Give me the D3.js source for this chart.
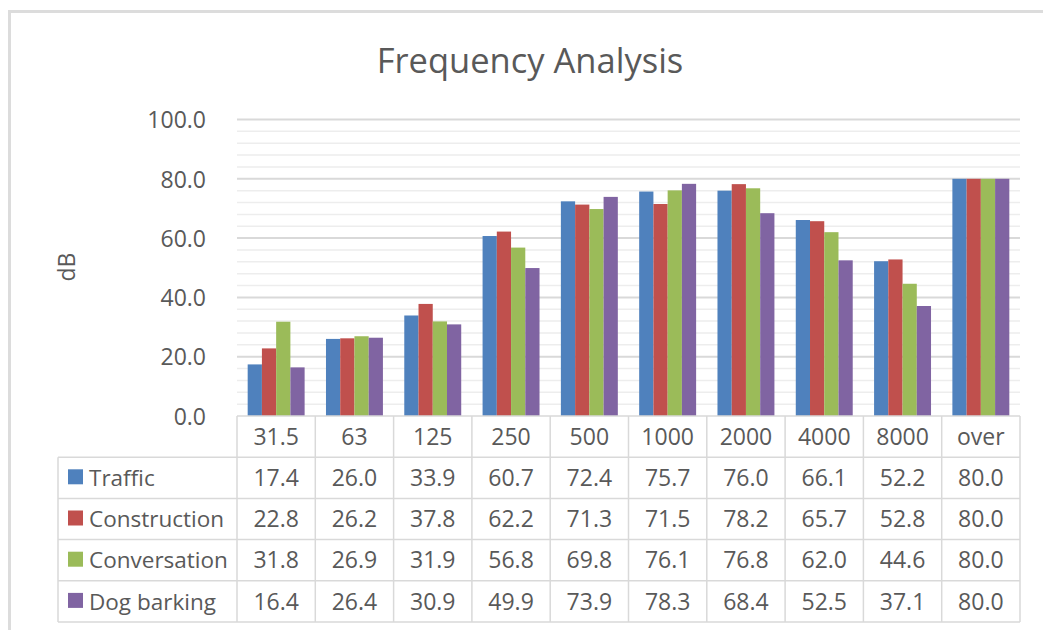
<!DOCTYPE html>
<html>
<head>
<meta charset="utf-8">
<script src="https://cdn.jsdelivr.net/npm/d3@7"></script>
<style>
  html, body { margin: 0; padding: 0; background: #fff; }
  svg { display: block; }
  text { font-family: "Open Sans", sans-serif; fill: #595959; }
</style>
</head>
<body>
<svg id="chart" width="1043" height="630"></svg>
<script>
// ---- data ----
const categories = ["31.5", "63", "125", "250", "500", "1000", "2000", "4000", "8000", "over"];
const seriesNames = ["Traffic", "Construction", "Conversation", "Dog barking"];
const traffic      = [17.4, 26.0, 33.9, 60.7, 72.4, 75.7, 76.0, 66.1, 52.2, 80.0];
const construction = [22.8, 26.2, 37.8, 62.2, 71.3, 71.5, 78.2, 65.7, 52.8, 80.0];
const conversation = [31.8, 26.9, 31.9, 56.8, 69.8, 76.1, 76.8, 62.0, 44.6, 80.0];
const dogBarking   = [16.4, 26.4, 30.9, 49.9, 73.9, 78.3, 68.4, 52.5, 37.1, 80.0];
const majorTicks = [0, 20, 40, 60, 80, 100];
const minorTicks = [4, 8, 12, 16, 24, 28, 32, 36, 44, 48, 52, 56, 64, 68, 72, 76, 84, 88, 92, 96];
const title = "Frequency Analysis";
const yTitle = "dB";

const seriesValues = [traffic, construction, conversation, dogBarking];
const colors = ["#4F81BD", "#C0504D", "#9BBB59", "#8064A2"];

// ---- layout ----
const svg = d3.select("#chart");
const plotLeft = 237, plotRight = 1020, plotTop = 119.5, plotBottom = 416;
const tableLeft = 58, tableBottom = 622;
const gridColor = "#D9D9D9", minorColor = "#EDEDED";

// chart area border
svg.append("rect")
  .attr("x", 9.5).attr("y", 11.5)
  .attr("width", 1100).attr("height", 700)
  .attr("fill", "none").attr("stroke", "#DCDCDC").attr("stroke-width", 3);

const x0 = d3.scaleBand().domain(categories).range([plotLeft, plotRight]).paddingInner(0).paddingOuter(0);
const x1 = d3.scaleBand().domain(seriesNames).range([0, x0.bandwidth()]).paddingInner(0).paddingOuter(0.75);
const y = d3.scaleLinear().domain([0, 100]).range([plotBottom, plotTop]);

// minor gridlines
svg.append("g").selectAll("line").data(minorTicks).join("line")
  .attr("x1", plotLeft).attr("x2", plotRight)
  .attr("y1", d => y(d)).attr("y2", d => y(d))
  .attr("stroke", minorColor).attr("stroke-width", 1.5);

// major gridlines
svg.append("g").selectAll("line").data(majorTicks.filter(d => d > 0)).join("line")
  .attr("x1", plotLeft).attr("x2", plotRight)
  .attr("y1", d => y(d)).attr("y2", d => y(d))
  .attr("stroke", gridColor).attr("stroke-width", 2);

// y axis labels
const yAxis = svg.append("g")
  .attr("transform", `translate(${plotLeft},0)`)
  .call(d3.axisLeft(y).tickValues(majorTicks).tickFormat(d3.format(".1f")).tickSize(0).tickPadding(31));
yAxis.select(".domain").remove();
yAxis.selectAll("text")
  .attr("font-family", "'Open Sans', sans-serif")
  .attr("font-size", 23)
  .attr("dy", "0.36em")
  .style("fill", "#595959");

// bars
const groups = svg.append("g").selectAll("g").data(categories).join("g")
  .attr("transform", d => `translate(${x0(d)},0)`);
groups.selectAll("rect")
  .data((c, ci) => seriesNames.map((s, si) => ({ s, si, v: seriesValues[si][ci] })))
  .join("rect")
  .attr("x", d => x1(d.s))
  .attr("width", x1.bandwidth())
  .attr("y", d => y(d.v))
  .attr("height", d => y(0) - y(d.v))
  .attr("fill", d => colors[d.si]);

// title
svg.append("text")
  .attr("x", 530).attr("y", 73)
  .attr("text-anchor", "middle")
  .attr("font-size", 34.5)
  .text(title);

// y title
svg.append("text")
  .attr("transform", `translate(67,267) rotate(-90)`)
  .attr("text-anchor", "middle")
  .attr("dy", "0.36em")
  .attr("font-size", 23)
  .text(yTitle);

// ---- data table ----
const rowScale = d3.scaleBand().domain(["header"].concat(seriesNames)).range([plotBottom, tableBottom]);
const tbl = svg.append("g");

// horizontal lines
const hLines = [
  { y: plotBottom, x1: plotLeft },
  ...seriesNames.map(s => ({ y: rowScale(s), x1: tableLeft })),
  { y: tableBottom, x1: tableLeft }
];
tbl.selectAll("line.h").data(hLines).join("line")
  .attr("class", "h")
  .attr("x1", d => d.x1).attr("x2", plotRight)
  .attr("y1", d => d.y).attr("y2", d => d.y)
  .attr("stroke", gridColor).attr("stroke-width", 1.5);

// vertical lines
const vXs = categories.map(c => x0(c)).concat([plotRight]);
tbl.selectAll("line.v").data(vXs).join("line")
  .attr("class", "v")
  .attr("x1", d => d).attr("x2", d => d)
  .attr("y1", plotBottom).attr("y2", tableBottom)
  .attr("stroke", gridColor).attr("stroke-width", 1.5);
tbl.append("line")
  .attr("x1", tableLeft).attr("x2", tableLeft)
  .attr("y1", rowScale(seriesNames[0])).attr("y2", tableBottom)
  .attr("stroke", gridColor).attr("stroke-width", 1.5);

// header labels
tbl.selectAll("text.cat").data(categories).join("text")
  .attr("class", "cat")
  .attr("x", d => x0(d) + x0.bandwidth() / 2)
  .attr("y", rowScale("header") + rowScale.bandwidth() / 2)
  .attr("dy", "0.36em")
  .attr("text-anchor", "middle")
  .attr("font-size", 23)
  .text(d => d);

// series rows
seriesNames.forEach((s, si) => {
  const cy = rowScale(s) + rowScale.bandwidth() / 2;
  tbl.append("rect")
    .attr("x", 68).attr("y", cy - 8.5)
    .attr("width", 15).attr("height", 15)
    .attr("fill", colors[si]);
  tbl.append("text")
    .attr("x", 89).attr("y", cy)
    .attr("dy", "0.36em")
    .attr("font-size", 22.5)
    .text(s);
  tbl.selectAll(null).data(seriesValues[si]).join("text")
    .attr("x", (d, i) => x0(categories[i]) + x0.bandwidth() / 2)
    .attr("y", cy)
    .attr("dy", "0.36em")
    .attr("text-anchor", "middle")
    .attr("font-size", 23)
    .text(d => d3.format(".1f")(d));
});
</script>
</body>
</html>
